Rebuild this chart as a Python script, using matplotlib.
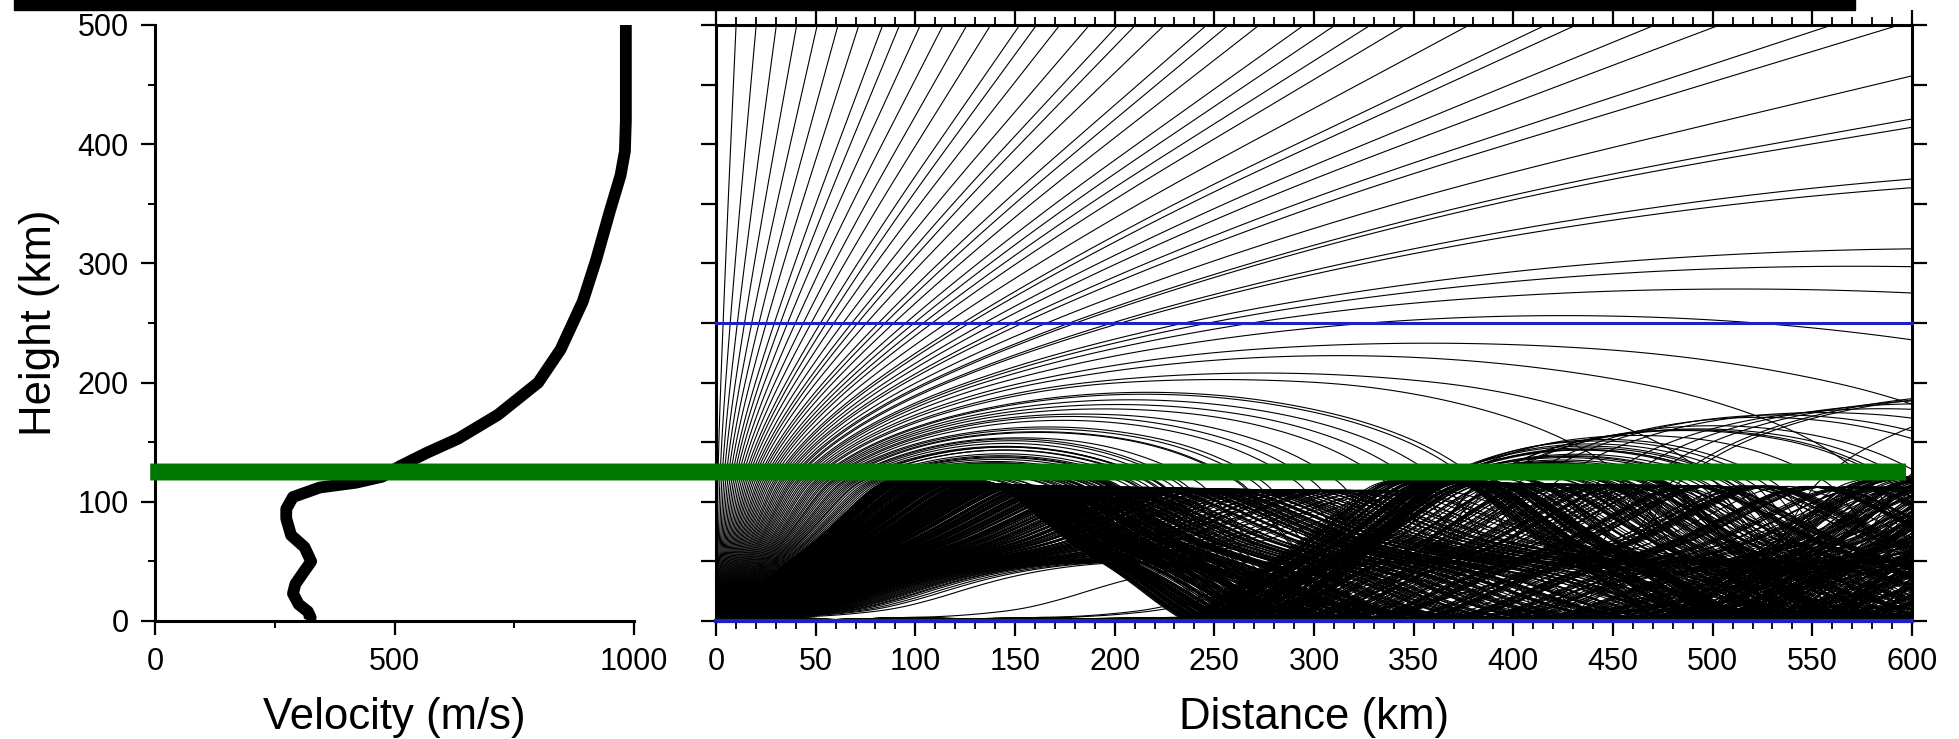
import numpy as np
import matplotlib
matplotlib.use('Agg')
import matplotlib.pyplot as plt
from matplotlib.collections import LineCollection
from matplotlib.patches import ConnectionPatch, Rectangle

plt.rcParams['font.family'] = ['Liberation Sans', 'DejaVu Sans']

# velocity profile
heights = [0, 3, 8, 14, 23, 31, 42, 50, 62, 72, 86, 94, 104, 112, 116, 121,
           130, 141, 153, 173, 200, 228, 268, 303, 343, 374, 394, 420, 500]
velocity = [320, 325, 319, 300, 288, 293, 312, 326, 312, 284, 274, 274, 288,
            344, 419, 474, 512, 567, 633, 716, 800, 847, 893, 921, 949, 972,
            981, 983, 983]

# ray launch angles (degrees above horizontal), source at distance 0, height 0
low_angles = np.arange(0.1, 52.0, 0.125)
high_angles = np.arange(52.0, 90.0, 0.5)
launch_angles = np.concatenate([low_angles, high_angles])

blue_levels = [0, 250]
marker_height = 125

vel_ticks = [0, 500, 1000]
height_ticks = [0, 100, 200, 300, 400, 500]
dist_ticks = list(range(0, 601, 50))

X_MAX, Z_MAX = 600, 500


def trace_rays(angles, ds=0.5, nsteps=2000):
    zg = np.asarray(heights, float)
    cg = np.asarray(velocity, float)
    slope = np.diff(cg) / np.diff(zg)

    def vel(z):
        return np.interp(z, zg, cg)

    def grad(z):
        i = np.clip(np.searchsorted(zg, z) - 1, 0, len(slope) - 1)
        return slope[i]

    phi = np.radians(angles)
    x = np.zeros_like(phi)
    z = np.zeros_like(phi)
    alive = np.ones(phi.shape, bool)
    xs, zs = [x.copy()], [z.copy()]
    for _ in range(nsteps):
        c, g = vel(z), grad(z)
        phim = phi - 0.5 * ds * np.cos(phi) * g / c
        zm = z + 0.5 * ds * np.sin(phi)
        phi_new = phi - ds * np.cos(phim) * grad(zm) / vel(zm)
        x_new = x + ds * np.cos(phim)
        z_new = z + ds * np.sin(phim)
        # bounce off the ground
        down = z_new < 0
        z_new[down] = -z_new[down]
        phi_new[down] = -phi_new[down]
        xs.append(np.where(alive, x_new, np.nan))
        zs.append(np.where(alive, z_new, np.nan))
        alive &= (x_new <= X_MAX) & (z_new <= Z_MAX)
        x, z, phi = x_new, z_new, phi_new
        if not alive.any():
            break
    return np.array(xs).T, np.array(zs).T


W, H = 1959, 739
fig = plt.figure(figsize=(W / 100, H / 100), dpi=100)

ax1 = fig.add_axes([155 / W, 1 - 621 / H, 479 / W, 596 / H])
ax2 = fig.add_axes([716 / W, 1 - 621 / H, 1196 / W, 596 / H])

# left panel: velocity profile
ax1.plot(velocity, heights, color='k', lw=8.5, solid_capstyle='butt',
         solid_joinstyle='round')
ax1.set_xlim(0, 1000)
ax1.set_ylim(0, 500)
for s in ['top', 'right']:
    ax1.spines[s].set_visible(False)
for s in ['left', 'bottom']:
    ax1.spines[s].set_linewidth(2.2)
ax1.set_xticks(vel_ticks)
ax1.set_xticks([250, 750], minor=True)
ax1.set_yticks(height_ticks)
ax1.set_yticks([50, 150, 250, 350, 450], minor=True)
ax1.tick_params(which='major', direction='out', length=10, width=1.6,
                labelsize=22, pad=9)
ax1.tick_params(which='minor', direction='out', length=5, width=1.4)
ax1.set_xlabel('Velocity (m/s)', fontsize=31.5)
ax1.set_ylabel('Height (km)', fontsize=31.5)
ax1.xaxis.set_label_coords(0.5, -0.127)
ax1.yaxis.set_label_coords(-0.198, 0.5)
ax1.xaxis.label.set_va('top')

# right panel: ray paths
xs, zs = trace_rays(launch_angles)
segs = []
for xr, zr in zip(xs, zs):
    ok = ~np.isnan(xr)
    segs.append(np.column_stack([xr[ok], zr[ok]]))
ax2.add_collection(LineCollection(segs, colors='k', linewidths=0.8))
for lvl in blue_levels:
    ax2.axhline(lvl, color='#1f1fc4', lw=2.2 if lvl else 3, zorder=3,
                clip_on=False)
ax2.set_xlim(0, X_MAX)
ax2.set_ylim(0, Z_MAX)
for s in ax2.spines.values():
    s.set_linewidth(2.2)
ax2.set_xticks(dist_ticks)
ax2.set_xticks(range(0, 601, 10), minor=True)
ax2.set_yticks(range(0, 501, 50))
ax2.tick_params(which='major', direction='out', length=11, width=1.6,
                labelsize=22, pad=8, top=True, right=True, labelleft=False)
ax2.tick_params(which='minor', direction='out', length=6, width=1.3,
                top=True)
ax2.set_xlabel('Distance (km)', fontsize=31.5)
ax2.xaxis.set_label_coords(0.5, -0.127)
ax2.xaxis.label.set_va('top')

# green marker line across both panels
con = ConnectionPatch(xyA=(-10, marker_height), coordsA=ax1.transData,
                      xyB=(597, marker_height), coordsB=ax2.transData,
                      color='#007700', lw=12.2, capstyle='butt', zorder=10)
fig.add_artist(con)

# black bar along the top edge
fig.add_artist(Rectangle((14 / W, 1 - 10 / H), (1855 - 14) / W, 10 / H,
                         transform=fig.transFigure, color='k', zorder=0))

fig.savefig('out.png', dpi=100)
